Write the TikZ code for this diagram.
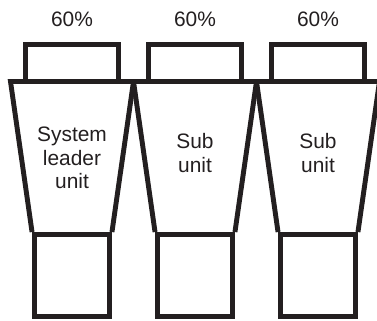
\documentclass[tikz,border=0pt]{standalone}
\usepackage{fontspec}
\setmainfont{Liberation Sans}

\definecolor{inkdark}{RGB}{35,31,32}
\tikzset{
	topbox/.style={draw, minimum width=1.86cm, minimum height=0.74cm, inner sep=0pt},
	botbox/.style={draw, minimum width=1.5cm, minimum height=1.64cm, inner sep=0pt},
	unitlabel/.style={align=center, inner sep=0pt, font=\fontsize{11.9}{13.4}\selectfont},
}

\begin{document}
\begin{tikzpicture}[x=0.02cm, y=-0.02cm, line width=2.8pt, inkdark, every node/.style={font=\fontsize{11.9}{13.4}\selectfont}]
	\useasboundingbox (0,0) rectangle (377,320);
	\foreach \c/\u/\ty/\txt in {72/lead/158/{System\\leader\\unit}, 195/suba/153/{Sub\\unit}, 318/subb/153/{Sub\\unit}} {
		\node[topbox] (\u-top) at (\c,63) {};
		\node (\u-pct) at (\c,19) {60\%};
		\node[botbox] (\u-bot) at (\c,275.5) {};
		\coordinate (\u-tl) at (\c-61.5,81.5);
		\coordinate (\u-tr) at (\c+61.5,81.5);
		\draw (\u-bot.north west) -- (\u-tl) -- (\u-tr) -- (\u-bot.north east);
		\node[unitlabel] (\u-txt) at (\c,\ty) {\txt};
	}
\end{tikzpicture}
\end{document}
